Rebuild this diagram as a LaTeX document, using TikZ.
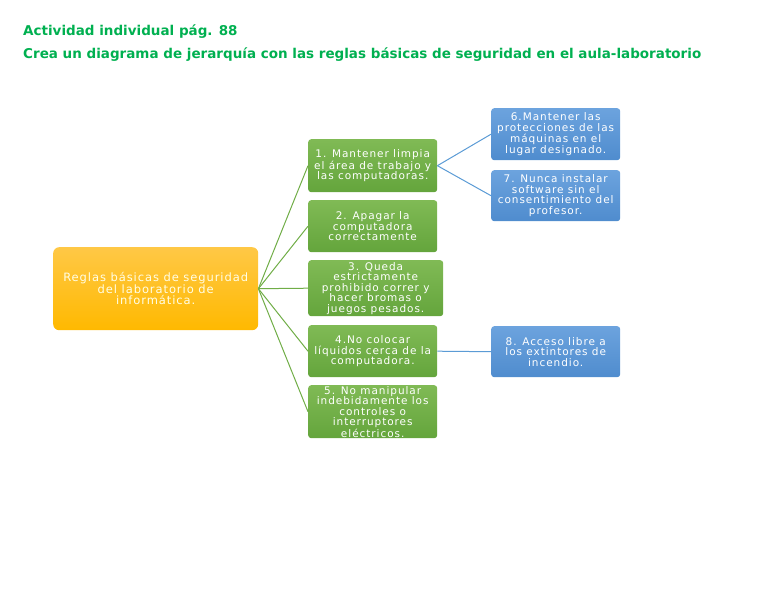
\documentclass[tikz,border=0pt]{standalone}
\usepackage{fontspec}
\setmainfont{DejaVu Sans}
\newfontfamily\boxfont[LetterSpace=9]{DejaVu Sans}
\newfontfamily\rootfont[LetterSpace=8]{DejaVu Sans}
\definecolor{ttl}{RGB}{0,176,80}
\definecolor{gtop}{RGB}{128,186,85}
\definecolor{gbot}{RGB}{100,165,60}
\definecolor{btop}{RGB}{108,163,222}
\definecolor{bbot}{RGB}{79,140,206}
\definecolor{otop}{RGB}{255,200,70}
\definecolor{obot}{RGB}{255,185,0}
\definecolor{gline}{RGB}{112,173,71}
\definecolor{bline}{RGB}{91,155,213}
\begin{document}
\begin{tikzpicture}[x=1pt,y=-1pt,
  box/.style={rounded corners=3pt,align=center,text=white,font=\boxfont\fontsize{10.5}{10.5}\selectfont,inner sep=0pt,anchor=north west},
  gbox/.style={box,top color=gtop,bottom color=gbot,draw=none},
  bbox/.style={box,top color=btop,bottom color=bbot,draw=none},
  obox/.style={box,top color=otop,bottom color=obot,draw=none,rounded corners=6pt,text=white!90!yellow,font=\rootfont\fontsize{11.5}{11.5}\selectfont},
  gl/.style={gline,line width=1pt},
  bl/.style={bline,line width=1pt},
  ttlf/.style={anchor=base west,text=ttl,font=\fontsize{13.5}{14}\selectfont\bfseries,inner sep=0pt}]
\useasboundingbox (0,0) rectangle (768,594);
\node[ttlf] (t1) at (23,36) {Actividad individual pág. 88};
\node[ttlf] (t2) at (23,59) {Crea un diagrama de jerarquía con las reglas básicas de seguridad en el aula-laboratorio};
\node[obox,minimum width=205pt,minimum height=83pt] (r) at (53,247) {Reglas básicas de seguridad\\del laboratorio de\\informática.};
\node[gbox,minimum width=129pt,minimum height=53pt] (g1) at (308,139) {1. Mantener limpia\\el área de trabajo y\\las computadoras.};
\node[gbox,minimum width=129pt,minimum height=52pt] (g2) at (308,200) {2. Apagar la\\computadora\\correctamente};
\node[gbox,minimum width=135pt,minimum height=56pt] (g3) at (308,260) {3. Queda\\estrictamente\\prohibido correr y\\hacer bromas o\\juegos pesados.};
\node[gbox,minimum width=129pt,minimum height=52pt] (g4) at (308,325) {4.No colocar\\líquidos cerca de la\\computadora.};
\node[gbox,minimum width=129pt,minimum height=53pt] (g5) at (308,385) {5. No manipular\\indebidamente los\\controles o\\interruptores\\eléctricos.};
\node[bbox,minimum width=129pt,minimum height=52pt] (b6) at (491,108) {6.Mantener las\\protecciones de las\\máquinas en el\\lugar designado.};
\node[bbox,minimum width=129pt,minimum height=51pt] (b7) at (491,170) {7. Nunca instalar\\software sin el\\consentimiento del\\profesor.};
\node[bbox,minimum width=129pt,minimum height=51pt] (b8) at (491,326) {8. Acceso libre a\\los extintores de\\incendio.};
\foreach \g in {g1,g2,g3,g4,g5} \draw[gl] (r.east) -- (\g.west);
\draw[bl] (g1.east) -- (b6.west);
\draw[bl] (g1.east) -- (b7.west);
\draw[bl] (g4.east) -- (b8.west);
\end{tikzpicture}
\end{document}
